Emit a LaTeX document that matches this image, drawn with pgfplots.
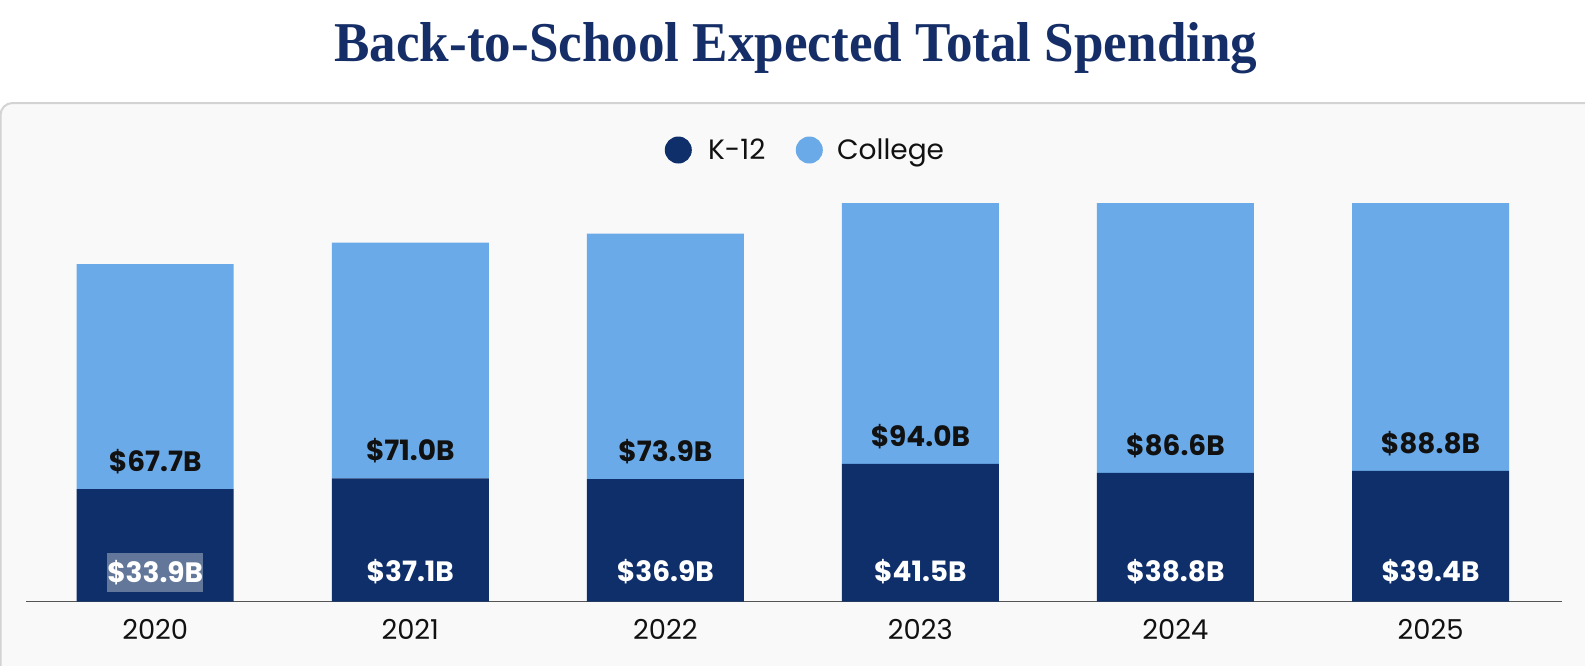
\documentclass[border=0pt]{standalone}
\usepackage{pgfplots}
\pgfplotsset{compat=1.18}
\usepackage{pgfplotstable}
\usepackage{graphicx}
\usepackage{fontspec}
\setmainfont{Poppins}
\newfontfamily\titlefont{Liberation Serif}
\definecolor{navy}{HTML}{0F2F6B}
\definecolor{lblue}{HTML}{6AAAE8}
\definecolor{titlenavy}{HTML}{152E68}
\definecolor{panelbg}{HTML}{F9F9F9}
\definecolor{panelborder}{HTML}{D3D3D3}
\definecolor{axisgray}{HTML}{555555}
\definecolor{hlgray}{HTML}{62779A}
\definecolor{txt}{HTML}{111111}

\pgfplotstableread{
x k12 college
0 33.9 67.7
1 37.1 71.0
2 36.9 73.9
3 41.5 94.0
4 38.8 86.6
5 39.4 88.8
}\spending

\pgfplotstableread{
x y label
0 8.9 \$33.9B
}\hllabel

\pgfplotstableread{
x y label
1 9.2 \$37.1B
2 9.2 \$36.9B
3 9.2 \$41.5B
4 9.2 \$38.8B
5 9.2 \$39.4B
}\klabels

\pgfplotstableread{
x y label
0 42.2 \$67.7B
1 45.4 \$71.0B
2 45.2 \$73.9B
3 49.8 \$94.0B
4 47.1 \$86.6B
5 47.7 \$88.8B
}\clabels

\pgfplotsset{
  frame/.style={
    at={(13pt,-300.85pt)}, anchor=south west,
    width=768pt, height=199.35pt, scale only axis,
    xmin=-0.5066, xmax=5.5156, ymin=0, ymax=120,
  },
  labplot/.style={
    draw=none, mark=none, nodes near coords, point meta=explicit symbolic,
    nodes near coords align=center,
    every node near coord/.append style={inner sep=0pt, font=\fontsize{14pt}{16pt}\selectfont\bfseries},
  },
}

\begin{document}
\begin{tikzpicture}
\useasboundingbox (0,0) rectangle (792.5pt,-332.5pt);
\begin{scope}[x=0.5pt,y=-0.5pt]
\fill[white] (0,0) rectangle (1585,665);
\draw[fill=panelbg, draw=panelborder, line width=1pt, rounded corners=6pt] (0.5,103) rectangle (1640,720);
\node[anchor=base west, inner sep=0pt, text=titlenavy] at (334,61.7)
  {\resizebox{461.5pt}{19.5pt}{\titlefont\bfseries Back-to-School Expected Total Spending}};
% legend
\fill[navy] (678.3,150) circle (13.5);
\node[anchor=base west, inner sep=0pt, text=txt, font=\fontsize{14pt}{16pt}\selectfont] at (707.7,159.3) {K-12};
\fill[lblue] (809.3,150) circle (13.5);
\node[anchor=base west, inner sep=0pt, text=txt, font=\fontsize{14pt}{16pt}\selectfont] at (836.7,159.3) {College};
\end{scope}
\begin{axis}[
  frame,
  ybar stacked, bar width=78.5pt,
  axis y line=none,
  axis x line*=bottom,
  x axis line style={draw=axisgray, line width=0.7pt, -},
  xtick=data, xticklabels={2020,2021,2022,2023,2024,2025},
  major tick length=0pt,
  x tick label style={anchor=base, yshift=-18.65pt, text=txt, font=\fontsize{13.7pt}{16pt}\selectfont},
  ytick=\empty,
]
\addplot[fill=navy, draw=none] table[x=x, y=k12] {\spending};
\addplot[fill=lblue, draw=none] table[x=x, y=college] {\spending};
\end{axis}
\begin{axis}[frame, hide axis, clip=false]
\addplot[labplot, every node near coord/.append style={text=white, fill=hlgray, minimum width=46.35pt, minimum height=19.5pt}]
  table[x=x, y=y, meta=label] {\hllabel};
\addplot[labplot, every node near coord/.append style={text=white}]
  table[x=x, y=y, meta=label] {\klabels};
\addplot[labplot, every node near coord/.append style={text=txt}]
  table[x=x, y=y, meta=label] {\clabels};
\end{axis}
\end{tikzpicture}
\end{document}
